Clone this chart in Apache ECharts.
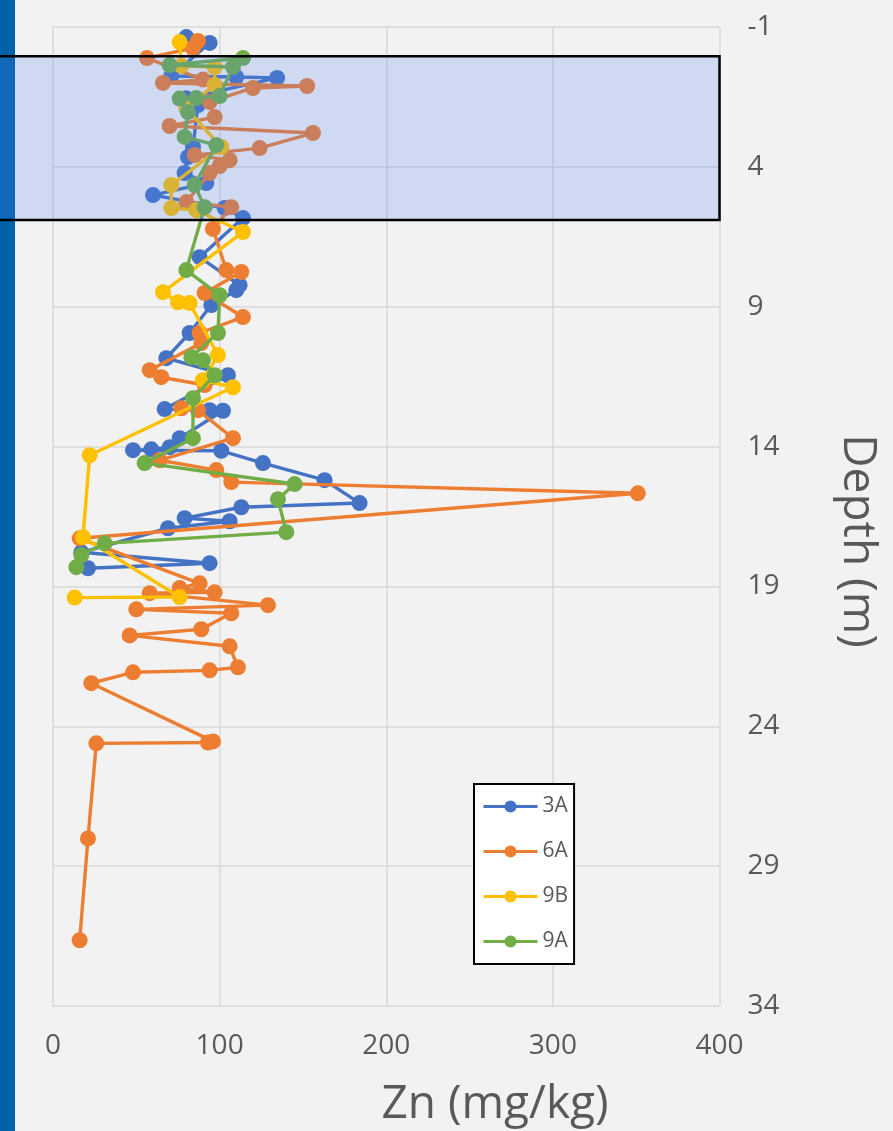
<!DOCTYPE html>
<html>
<head>
<meta charset="utf-8">
<script src="https://cdn.jsdelivr.net/npm/echarts@6/dist/echarts.min.js"></script>
<style>
  html, body { margin: 0; padding: 0; background: #F2F2F2; }
  #chart { width: 893px; height: 1131px; }
</style>
</head>
<body>
<div id="chart"></div>
<script>
// Zn concentration profiles against depth for four boreholes
const seriesNames = ['3A', '6A', '9B', '9A'];
const seriesColors = ['#4472C4', '#ED7D31', '#FFC000', '#70AD47'];

const zn3A = [80, 94, 71, 110, 134.5, 80, 87, 84, 81, 79, 92, 60, 103, 114, 88, 112, 110, 95, 82, 68, 105, 67, 94, 102, 76, 70, 59, 48, 101, 126, 163, 184, 113, 79, 106, 69, 17, 94, 21];
const depth3A = [-0.64, -0.43, 0.75, 0.79, 0.82, 1.55, 1.79, 3.29, 3.65, 4.22, 4.58, 5.01, 5.47, 5.83, 7.23, 8.23, 8.41, 8.94, 9.94, 10.84, 11.45, 12.66, 12.7, 12.72, 13.7, 14.02, 14.1, 14.13, 14.15, 14.59, 15.2, 16.02, 16.17, 16.56, 16.67, 16.92, 17.78, 18.17, 18.35];

const zn6A = [87, 84, 56.4, 90, 66, 152.5, 120, 94, 97, 70, 156, 124, 85, 106, 100, 94, 80, 107, 96, 104, 113, 91, 114, 88, 89, 58, 65, 91, 77, 87, 108, 64, 98, 107, 351, 16, 88, 76, 97, 58, 129, 50, 107, 89, 46, 106, 111, 94, 48, 23, 96, 93, 26, 21, 16];
const depth6A = [-0.5, -0.25, 0.11, 0.88, 1.0, 1.11, 1.18, 1.68, 2.22, 2.54, 2.79, 3.33, 3.58, 3.76, 3.97, 4.22, 5.26, 5.44, 6.22, 7.69, 7.76, 8.51, 9.37, 9.94, 10.3, 11.27, 11.52, 11.8, 12.63, 12.7, 13.7, 14.49, 14.84, 15.27, 15.67, 17.28, 18.89, 19.06, 19.21, 19.24, 19.67, 19.82, 19.96, 20.53, 20.75, 21.14, 21.89, 22.0, 22.07, 22.46, 24.54, 24.58, 24.61, 28.01, 31.65];

const zn9B = [76, 77, 97, 97, 80, 101, 71, 71, 86, 114, 66, 75, 82, 99, 90, 108, 22, 18, 76, 13];
const depth9B = [-0.46, 0.39, 0.43, 1.07, 1.9, 3.29, 4.65, 5.47, 5.55, 6.33, 8.48, 8.84, 8.87, 10.73, 11.63, 11.88, 14.31, 17.24, 19.38, 19.4];

const zn9A = [114, 70, 108, 100, 86, 76, 81, 79, 98, 85, 91, 80, 100, 99, 83, 90, 97, 84, 84, 55, 145, 135, 140, 31, 17, 14];
const depth9A = [0.11, 0.36, 0.43, 1.47, 1.54, 1.56, 2.04, 2.93, 3.22, 4.65, 5.44, 7.69, 8.59, 9.94, 10.8, 10.91, 11.45, 12.27, 13.7, 14.59, 15.34, 15.88, 17.06, 17.46, 17.88, 18.31];

// highlighted depth interval (m)
const bandDepth = [0.05, 5.9];

const xTicks = { min: 0, max: 400, step: 100 };
const yTicks = { min: -1, max: 34, step: 5 };

const znSets = [zn3A, zn6A, zn9B, zn9A];
const depthSets = [depth3A, depth6A, depth9B, depth9A];

const labelColor = '#595959';
const fontFamily = "'Open Sans', 'Noto Sans', sans-serif";

const chart = echarts.init(document.getElementById('chart'), null, { renderer: 'canvas' });

const series = seriesNames.map((name, i) => ({
  name: name,
  type: 'line',
  data: znSets[i].map((v, k) => [v, depthSets[i][k]]),
  color: seriesColors[i],
  symbol: 'circle',
  symbolSize: 16,
  showAllSymbol: true,
  lineStyle: { width: 3.4, color: seriesColors[i] },
  itemStyle: { color: seriesColors[i] },
  emphasis: { disabled: true },
  z: 2 + i
}));

chart.setOption({
  animation: false,
  backgroundColor: '#F2F2F2',
  textStyle: { fontFamily: fontFamily },
  grid: { left: 53, right: 173.5, top: 27, bottom: 125, containLabel: false },
  xAxis: {
    type: 'value',
    min: xTicks.min, max: xTicks.max, interval: xTicks.step,
    axisLine: { show: false },
    axisTick: { show: false },
    splitLine: { show: true, lineStyle: { color: '#D9D9D9', width: 1.5 } },
    axisLabel: { color: labelColor, fontSize: 28, margin: 26, fontFamily: fontFamily }
  },
  yAxis: {
    type: 'value',
    position: 'right',
    inverse: true,
    min: yTicks.min, max: yTicks.max, interval: yTicks.step,
    axisLine: { show: false },
    axisTick: { show: false },
    splitLine: { show: true, lineStyle: { color: '#D9D9D9', width: 1.5 } },
    axisLabel: { color: labelColor, fontSize: 28, margin: 28, align: 'left', fontFamily: fontFamily }
  },
  legend: {
    orient: 'vertical',
    left: 474,
    top: 784,
    data: seriesNames,
    backgroundColor: '#FFFFFF',
    borderColor: '#000000',
    borderWidth: 2,
    padding: [12, 6, 12, 8],
    itemWidth: 54,
    itemHeight: 15,
    itemGap: 24,
    lineStyle: { width: 3 },
    textStyle: { color: labelColor, fontSize: 21, lineHeight: 20, fontFamily: fontFamily },
    selectedMode: false
  },
  series: series
});

function drawOverlays() {
  const topLeft = chart.convertToPixel({ gridIndex: 0 }, [xTicks.min, bandDepth[0]]);
  const bottomRight = chart.convertToPixel({ gridIndex: 0 }, [xTicks.max, bandDepth[1]]);
  chart.setOption({
    graphic: [
      {
        type: 'rect', id: 'stripe', z: 1,
        shape: { x: 0, y: 0, width: 15, height: 1131 },
        style: { fill: '#0062AA' },
        silent: true
      },
      {
        type: 'rect', id: 'band', z: 60,
        shape: { x: -4, y: topLeft[1], width: bottomRight[0] + 4, height: bottomRight[1] - topLeft[1] },
        style: { fill: 'rgba(80,131,242,0.22)', stroke: '#000000', lineWidth: 2.5 },
        silent: true
      },
      {
        type: 'text', id: 'xname', z: 10,
        x: 495, y: 1105,
        style: { text: 'Zn (mg/kg)', fill: labelColor, font: "46px " + fontFamily, textAlign: 'center', textVerticalAlign: 'middle' }
      },
      {
        type: 'text', id: 'yname', z: 10,
        x: 857, y: 541, rotation: -Math.PI / 2,
        style: { text: 'Depth (m)', fill: labelColor, font: "46px " + fontFamily, textAlign: 'center', textVerticalAlign: 'middle' }
      }
    ]
  });
}
drawOverlays();
</script>
</body>
</html>
